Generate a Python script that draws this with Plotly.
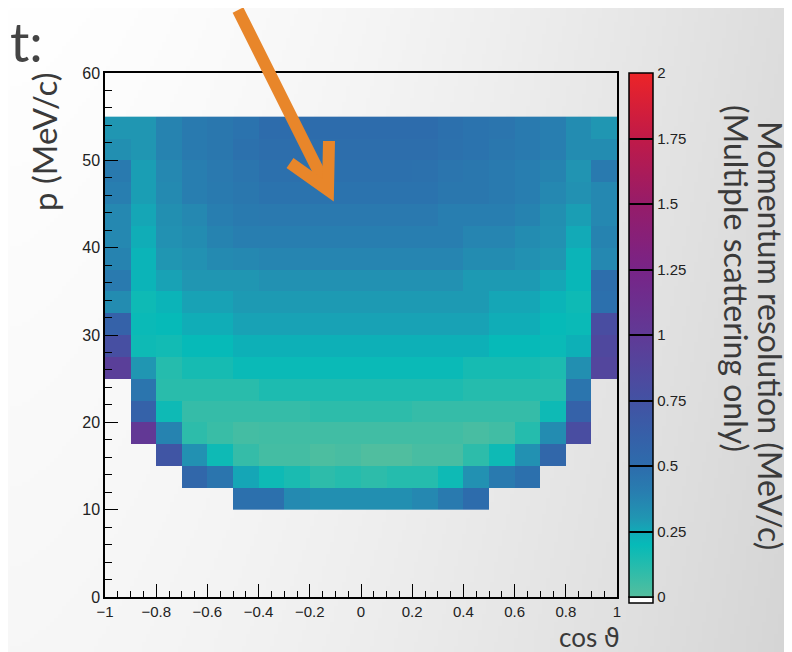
import base64, struct, zlib
import numpy as np
import plotly.graph_objects as go

# ---------------- data ----------------
cos_centers = [round(-0.95 + 0.1 * i, 2) for i in range(20)]
p_centers = [11.25 + 2.5 * j for j in range(18)]

N = None
# rows: p bins from 10-12.5 (first) up to 52.5-55 (last); columns: cos theta bins -1..1
res_r0 = [N, N, N, N, N, 0.48, 0.48, 0.35, 0.33, 0.33, 0.33, 0.33, 0.36, 0.42, 0.50, N, N, N, N, N]
res_r1 = [N, N, N, 0.55, 0.45, 0.26, 0.18, 0.15, 0.10, 0.12, 0.10, 0.12, 0.12, 0.18, 0.32, 0.42, 0.48, N, N, N]
res_r2 = [N, N, 0.72, 0.32, 0.18, 0.08, 0.04, 0.04, 0.02, 0.03, 0.01, 0.01, 0.03, 0.03, 0.10, 0.18, 0.32, 0.55, N, N]
res_r3 = [N, 1.02, 0.38, 0.10, 0.07, 0.04, 0.05, 0.05, 0.05, 0.05, 0.05, 0.05, 0.05, 0.05, 0.03, 0.05, 0.12, 0.34, 0.80, N]
res_r4 = [N, 0.60, 0.18, 0.08, 0.08, 0.08, 0.08, 0.08, 0.10, 0.10, 0.10, 0.10, 0.08, 0.08, 0.08, 0.08, 0.08, 0.18, 0.60, N]
res_r5 = [N, 0.45, 0.11, 0.11, 0.11, 0.11, 0.14, 0.14, 0.14, 0.14, 0.14, 0.14, 0.14, 0.14, 0.12, 0.12, 0.12, 0.12, 0.45, N]
res_r6 = [0.95, 0.30, 0.12, 0.16, 0.16, 0.19, 0.19, 0.19, 0.19, 0.19, 0.19, 0.19, 0.19, 0.19, 0.16, 0.16, 0.16, 0.14, 0.33, 0.88]
res_r7 = [0.78, 0.18, 0.17, 0.20, 0.20, 0.23, 0.23, 0.23, 0.23, 0.23, 0.23, 0.23, 0.23, 0.23, 0.23, 0.20, 0.20, 0.19, 0.23, 0.85]
res_r8 = [0.60, 0.19, 0.20, 0.24, 0.24, 0.27, 0.27, 0.27, 0.27, 0.27, 0.27, 0.27, 0.27, 0.27, 0.27, 0.24, 0.24, 0.20, 0.19, 0.80]
res_r9 = [0.34, 0.18, 0.22, 0.27, 0.27, 0.29, 0.29, 0.29, 0.29, 0.29, 0.29, 0.29, 0.29, 0.29, 0.29, 0.26, 0.26, 0.22, 0.18, 0.48]
res_r10 = [0.42, 0.22, 0.27, 0.30, 0.30, 0.30, 0.32, 0.32, 0.32, 0.32, 0.32, 0.32, 0.32, 0.32, 0.29, 0.29, 0.29, 0.26, 0.21, 0.49]
res_r11 = [0.38, 0.22, 0.30, 0.32, 0.35, 0.36, 0.37, 0.37, 0.37, 0.37, 0.37, 0.37, 0.37, 0.37, 0.34, 0.34, 0.32, 0.30, 0.22, 0.36]
res_r12 = [0.36, 0.24, 0.32, 0.34, 0.38, 0.40, 0.40, 0.40, 0.40, 0.40, 0.40, 0.40, 0.40, 0.40, 0.37, 0.37, 0.34, 0.32, 0.25, 0.38]
res_r13 = [0.36, 0.26, 0.33, 0.36, 0.40, 0.42, 0.43, 0.43, 0.43, 0.43, 0.43, 0.43, 0.43, 0.40, 0.40, 0.40, 0.38, 0.33, 0.28, 0.36]
res_r14 = [0.40, 0.28, 0.35, 0.40, 0.42, 0.44, 0.46, 0.46, 0.46, 0.46, 0.46, 0.46, 0.46, 0.44, 0.44, 0.42, 0.40, 0.36, 0.32, 0.36]
res_r15 = [0.42, 0.28, 0.36, 0.40, 0.43, 0.45, 0.48, 0.48, 0.48, 0.48, 0.48, 0.48, 0.47, 0.45, 0.44, 0.42, 0.40, 0.38, 0.31, 0.42]
res_r16 = [0.33, 0.30, 0.38, 0.42, 0.44, 0.47, 0.49, 0.49, 0.49, 0.49, 0.49, 0.49, 0.49, 0.47, 0.46, 0.44, 0.42, 0.40, 0.34, 0.34]
res_r17 = [0.30, 0.30, 0.38, 0.42, 0.44, 0.46, 0.50, 0.50, 0.50, 0.50, 0.50, 0.50, 0.50, 0.48, 0.46, 0.45, 0.42, 0.40, 0.34, 0.30]

resolution = [res_r0, res_r1, res_r2, res_r3, res_r4, res_r5, res_r6, res_r7, res_r8,
              res_r9, res_r10, res_r11, res_r12, res_r13, res_r14, res_r15, res_r16, res_r17]

x_tick_vals = [-1, -0.8, -0.6, -0.4, -0.2, 0, 0.2, 0.4, 0.6, 0.8, 1]
x_tick_text = ["\u22121", "\u22120.8", "\u22120.6", "\u22120.4", "\u22120.2", "0", "0.2", "0.4", "0.6", "0.8", "1"]
y_tick_vals = [0, 10, 20, 30, 40, 50, 60]
cb_tick_vals = [0, 0.25, 0.5, 0.75, 1, 1.25, 1.5, 1.75, 2]
cb_tick_text = ["0", "0.25", "0.5", "0.75", "1", "1.25", "1.5", "1.75", "2"]

# ---------------- styling ----------------
OFF = 8                      # page body margin around the figure
W, H = 792 - OFF, 652 - OFF
# plot area in screen pixels
SL, SR, ST, SB = 105, 617, 73, 597
L, R, T, B = SL - OFF, SR - OFF, ST - OFF, SB - OFF

colorscale = [
    [0.0, "rgb(84,190,158)"],
    [0.05, "rgb(45,188,170)"],
    [0.10, "rgb(6,186,184)"],
    [0.125, "rgb(18,170,183)"],
    [0.15, "rgb(32,150,178)"],
    [0.20, "rgb(40,126,176)"],
    [0.25, "rgb(45,108,172)"],
    [0.3125, "rgb(55,95,168)"],
    [0.375, "rgb(67,82,163)"],
    [0.4375, "rgb(82,70,157)"],
    [0.5, "rgb(96,58,150)"],
    [0.625, "rgb(120,36,135)"],
    [0.75, "rgb(150,28,105)"],
    [0.875, "rgb(192,26,72)"],
    [1.0, "rgb(236,36,40)"],
]


def px_x(sx):
    """screen pixel x -> paper coordinate"""
    return (sx - SL) / (SR - SL)


def px_y(sy):
    """screen pixel y -> paper coordinate"""
    return (SB - sy) / (SB - ST)


def png_uri(img):
    h, w, _ = img.shape
    raw = b"".join(b"\x00" + img[i].tobytes() for i in range(h))

    def chunk(tag, data):
        c = struct.pack(">I", len(data)) + tag + data
        return c + struct.pack(">I", zlib.crc32(tag + data) & 0xFFFFFFFF)

    png = b"\x89PNG\r\n\x1a\n" + chunk(b"IHDR", struct.pack(">IIBBBBB", w, h, 8, 2, 0, 0, 0))
    png += chunk(b"IDAT", zlib.compress(raw, 9)) + chunk(b"IEND", b"")
    return "data:image/png;base64," + base64.b64encode(png).decode()


gx, gy = np.meshgrid(np.linspace(0, 1, 196), np.linspace(0, 1, 161))
shade = 255 - 34 * gx ** 1.6 - 8 * gy
bg = np.clip(np.stack([shade, shade, shade], axis=-1), 0, 255).astype(np.uint8)

fig = go.Figure()
fig.add_trace(go.Heatmap(
    x=cos_centers, y=p_centers, z=resolution,
    zmin=0, zmax=2, colorscale=colorscale, hoverongaps=False,
    colorbar=dict(
        xref="paper", x=px_x(629), xanchor="left",
        yref="paper", y=1, yanchor="top",
        lenmode="fraction", len=1, thicknessmode="pixels", thickness=24,
        outlinewidth=1.5, outlinecolor="black",
        ticks="inside", ticklen=24, tickwidth=1.6, tickcolor="black",
        tickvals=cb_tick_vals, ticktext=cb_tick_text,
        tickfont=dict(family="Liberation Sans", size=15, color="#222"),
        xpad=0, ypad=0,
    ),
))

fig.update_layout(
    width=W, height=H,
    margin=dict(l=L, r=W - R, t=T, b=H - B, autoexpand=False),
    paper_bgcolor="white", plot_bgcolor="rgba(0,0,0,0)",
    showlegend=False,
    xaxis=dict(range=[-1, 1], tickvals=x_tick_vals, ticktext=x_tick_text,
               ticks="inside", ticklen=13, tickwidth=1.2, tickcolor="black",
               minor=dict(ticks="inside", ticklen=6, dtick=0.05, tickcolor="black", tickwidth=1.2),
               showline=True, linecolor="black", linewidth=1.5, mirror=True,
               showgrid=False, zeroline=False, automargin=False,
               tickfont=dict(family="Liberation Sans", size=15, color="#222")),
    yaxis=dict(range=[0, 60], tickvals=y_tick_vals,
               ticks="inside", ticklen=13, tickwidth=1.2, tickcolor="black",
               minor=dict(ticks="inside", ticklen=7, dtick=2, tickcolor="black", tickwidth=1.2),
               showline=True, linecolor="black", linewidth=1.5, mirror=True,
               showgrid=False, zeroline=False, automargin=False,
               tickfont=dict(family="Liberation Sans", size=16, color="#222")),
    images=[dict(source=png_uri(bg), xref="paper", yref="paper",
                 x=px_x(OFF), y=px_y(OFF), sizex=px_x(792) - px_x(OFF), sizey=px_y(OFF) - px_y(652),
                 xanchor="left", yanchor="top", sizing="stretch", layer="below")],
)

title_color = "#3a3a3a"


def note(text, sx, sy, angle=0, size=30, xanchor="center", color=title_color):
    fig.add_annotation(text=text, textangle=angle, xref="paper", yref="paper",
                       x=px_x(sx), y=px_y(sy), xanchor=xanchor, yanchor="middle",
                       showarrow=False, font=dict(family="Lato", size=size, color=color))


note("p (MeV/c)", 44, 142, angle=-90, size=33)
note("cos <span style=\"font-family:'DejaVu Sans'\">\u03d1</span>", 622, 637, xanchor="right", size=26)
note("Momentum resolution (MeV/c)", 771, 335, angle=90, size=32)
note("(Multiple scattering only)", 737, 278, angle=90, size=32)
note("t:", 8, 42, xanchor="left", size=54, color="#444444")

# underflow box below the palette
fig.add_shape(type="rect", xref="paper", yref="paper",
              x0=px_x(629), x1=px_x(653), y0=px_y(597), y1=px_y(603),
              fillcolor="white", line=dict(color="black", width=1.5))

# orange arrow
orange = "#E8862A"
tail = (238, 10)
tip = (328, 190)
arm1 = (290, 163)
arm2 = (329, 141)
fig.add_shape(type="line", xref="paper", yref="paper",
              x0=px_x(tail[0]), y0=px_y(tail[1]), x1=px_x(tip[0] - 3), y1=px_y(tip[1] - 6),
              line=dict(color=orange, width=12))
fig.add_shape(type="path", xref="paper", yref="paper",
              path=f"M {px_x(arm1[0])} {px_y(arm1[1])} L {px_x(tip[0])} {px_y(tip[1])} L {px_x(arm2[0])} {px_y(arm2[1])}",
              line=dict(color=orange, width=12))

fig.write_html("out.html")
